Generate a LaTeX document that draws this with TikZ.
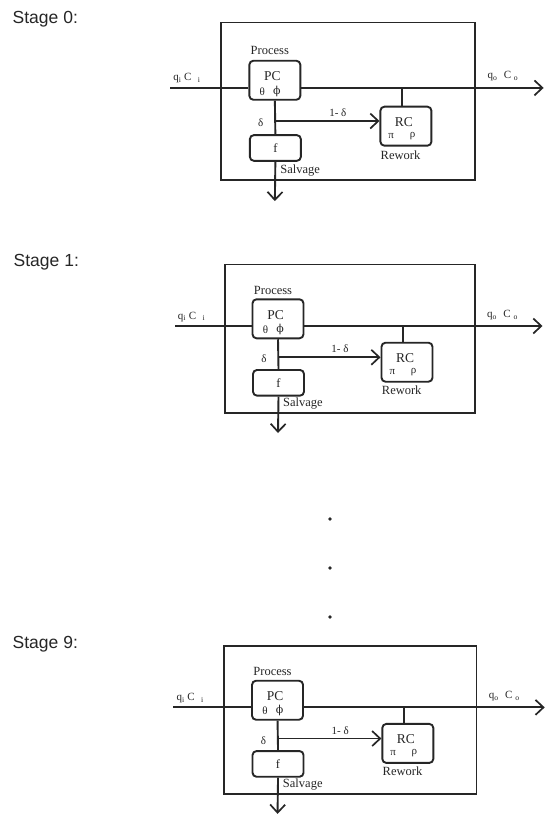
\documentclass[tikz,border=0pt]{standalone}
\usepackage{fontspec}
\setmainfont{Liberation Serif}
\newfontfamily\labelsans{Liberation Sans}
\newfontfamily\phifont{DejaVu Serif}
\usetikzlibrary{arrows.meta}
\tikzset{
  outerframe/.style={draw=black!85, line width=1.4pt},
  boxnode/.style={draw=black!85, line width=1.9pt, rounded corners=4pt, inner sep=0pt},
  flow/.style={draw=black!85, line width=1.9pt},
  flowarrow/.style={draw=black!85, line width=1.9pt, -{Straight Barb[length=8pt,width=15pt,line width=1.7pt]}},
  lbl/.style={font=\fontsize{12.5}{14}\selectfont, inner sep=0pt, text=black!85},
  pclbl/.style={font=\fontsize{13.5}{15}\selectfont, inner sep=0pt, text=black!85},
  smalllbl/.style={font=\fontsize{11}{12}\selectfont, inner sep=0pt, text=black!85},
  stagelbl/.style={font=\labelsans\fontsize{17.5}{20}\selectfont, anchor=base west, inner sep=0pt, text=black!85},
  dotmark/.style={circle, fill=black!85, inner sep=0pt, minimum size=3.8pt}
}
\newcommand\stagediagram[5]{%
\begin{scope}[shift={(#2,#3)}, xscale=#4, yscale=#5]
  \draw[outerframe] (0,0) rectangle (250,148.7);
  \node[boxnode, minimum width=51pt, minimum height=39pt] (#1pc) at (53,54.5) {};
  \node[boxnode, minimum width=51pt, minimum height=39pt] (#1rc) at (182,97.9) {};
  \node[boxnode, minimum width=51pt, minimum height=25.7pt, lbl] (#1f) at (53.5,118.5) {f};
  \node[pclbl] (#1pctext) at (50.6,50.7) {PC};
  \node[smalllbl] (#1theta) at (40.5,65) {θ};
  \node[smalllbl] (#1phi) at (55,65) {\phifont ϕ};
  \node[pclbl] (#1rctext) at (180,94) {RC};
  \node[smalllbl] (#1pi) at (167.5,107.4) {π};
  \node[smalllbl] (#1rho) at (188.5,107.4) {ρ};
  \coordinate (#1in) at (-50,61.7);
  \coordinate (#1out) at (317.5,61.7);
  \coordinate (#1tap) at (178,61.7);
  \coordinate (#1br) at (53,93);
  \coordinate (#1sink) at (53,168.7);
  \draw[flow] (#1in) -- (#1in -| #1pc.west);
  \draw[flowarrow] (#1in -| #1pc.east) -- (#1out);
  \draw[flow] (#1tap) -- (#1tap |- #1rc.north);
  \draw[flow] (#1pc.south) -- (#1f.north);
  \draw[flowarrow] (#1br) -- (#1br -| #1rc.west);
  \draw[flowarrow] (#1f.south) -- (#1sink);
  \node[lbl] (#1proc) at (48,26) {Process};
  \node[smalllbl] (#1qi) at (-33.5,52.4) {q\textsubscript{i} C\,\, \textsubscript{i}};
  \node[smalllbl] (#1qo) at (277.5,50.7) {q\textsubscript{o}\,\, C \textsubscript{o}};
  \node[smalllbl] (#1onem) at (115,84.7) {1- δ};
  \node[smalllbl] (#1delta) at (39,94.7) {δ};
  \node[lbl] (#1salv) at (78,139.7) {Salvage};
  \node[lbl] (#1rew) at (176.7,125.7) {Rework};
\end{scope}}
\begin{document}
\begin{tikzpicture}[x=1pt, y=-1pt]
  \useasboundingbox[fill=white] (0,0) rectangle (544,816);
  \node[stagelbl] (st0) at (12.5,24) {Stage 0:};
  \node[stagelbl] (st1) at (13.5,266.7) {Stage 1:};
  \node[stagelbl] (st9) at (12.5,648) {Stage 9:};
  \stagediagram{s0}{221}{22.6}{1.016}{1.058}
  \stagediagram{s1}{225}{264.3}{1}{1}
  \stagediagram{s9}{224}{646}{1.01}{0.995}
  \node[dotmark] (dot1) at (330,519) {};
  \node[dotmark] (dot2) at (330,568) {};
  \node[dotmark] (dot3) at (330,617) {};
\end{tikzpicture}
\end{document}
